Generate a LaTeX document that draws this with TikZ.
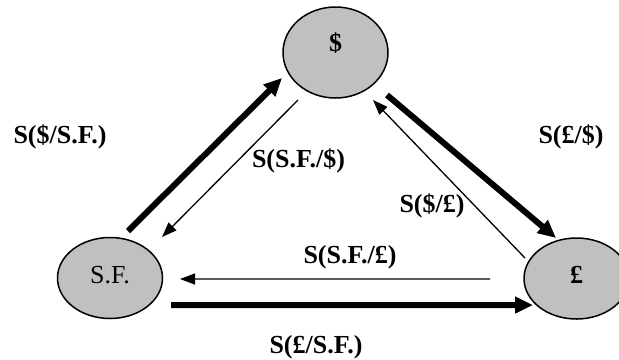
\documentclass[tikz,border=0pt]{standalone}
\usepackage{fontspec}
\setmainfont{Liberation Serif}
\usetikzlibrary{arrows.meta,shapes.geometric,calc}
\definecolor{nodegray}{RGB}{192,192,192}
\begin{document}
\begin{tikzpicture}[x=1bp,y=-1bp,
  cur/.style={ellipse,draw,line width=1.5bp,fill=nodegray,minimum width=105bp,minimum height=81bp,inner sep=0pt,font=\fontsize{26bp}{30bp}\selectfont},
  lbl/.style={anchor=base,inner sep=0pt,font=\fontsize{26bp}{30bp}\selectfont\bfseries},
  heavy/.style={line width=6bp,-{Triangle[length=18bp,width=16bp]}},
  light/.style={line width=1.3bp,-{Triangle[length=15bp,width=11bp]}}]
\useasboundingbox (0,0) rectangle (619,359);
\clip (0,0) rectangle (619,359);
% currency nodes
\node[cur,minimum height=91bp,text height=10bp,text depth=13bp,font=\fontsize{26bp}{30bp}\selectfont\bfseries] (d) at (335.5,52.5) {\$};
\node[cur,text height=15bp,text depth=5bp] (sf) at (110,278) {S.F.};
\node[cur,text height=14.5bp,text depth=5.5bp,font=\fontsize{26bp}{30bp}\selectfont\bfseries] (gbp) at (576.5,278.5) {£};
% connectors
\draw[heavy] ($(sf)+(18,-47)$) -- ($(d)+(-53.5,25.5)$);
\draw[light] ($(d)+(-37.5,47.5)$) -- ($(sf)+(52,-41)$);
\draw[heavy] ($(d)+(51.5,42.5)$) -- ($(gbp)+(-20.5,-40.5)$);
\draw[light] ($(gbp)+(-51.5,-20.5)$) -- ($(d)+(37.5,47.5)$);
\draw[light] ($(gbp)+(-86.5,0.5)$) -- ($(sf)+(70,1)$);
\draw[heavy] ($(sf)+(61,27)$) -- ($(gbp)+(-43.5,26.5)$);
% labels
\node[lbl] (l1) at (60,143) {S(\$/S.F.)};
\node[lbl] (l2) at (571,143) {S(£/\$)};
\node[lbl] (l3) at (298.5,167) {S(S.F./\$)};
\node[lbl] (l4) at (432,212) {S(\$/£)};
\node[lbl] (l5) at (350,263) {S(S.F./£)};
\node[lbl] (l6) at (316,353) {S(£/S.F.)};
\end{tikzpicture}
\end{document}
